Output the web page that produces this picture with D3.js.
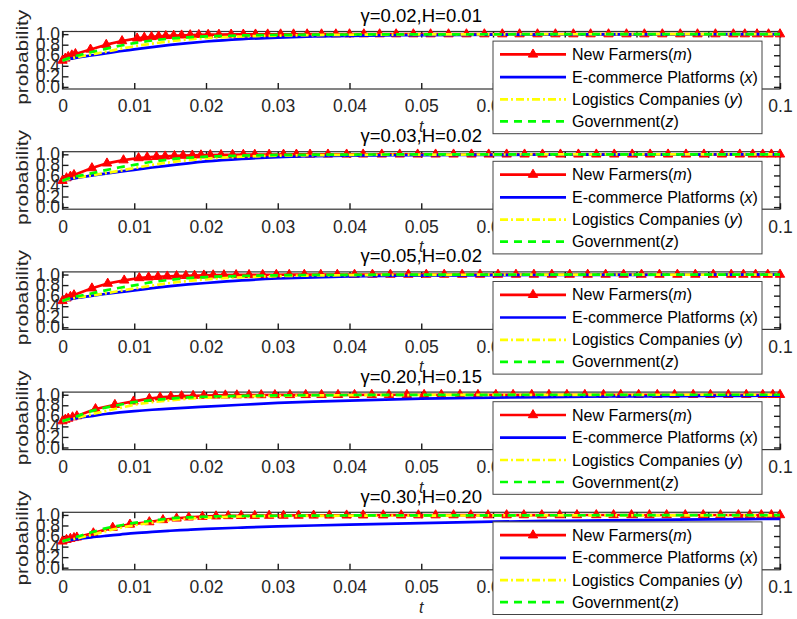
<!DOCTYPE html>
<html>
<head>
<meta charset="utf-8">
<script src="https://cdn.jsdelivr.net/npm/d3@7"></script>
<style>
  html, body { margin: 0; padding: 0; background: #fff; }
  svg { display: block; }
</style>
</head>
<body>
<script>
// ---------------- DATA ----------------
const titles = ["γ=0.02,H=0.01", "γ=0.03,H=0.02", "γ=0.05,H=0.02", "γ=0.20,H=0.15", "γ=0.30,H=0.20"];
const xTicks = [0, 0.01, 0.02, 0.03, 0.04, 0.05, 0.06, 0.07, 0.08, 0.09, 0.1];
const xTickLabels = ["0", "0.01", "0.02", "0.03", "0.04", "0.05", "0.06", "0.07", "0.08", "0.09", "0.1"];
const yTicks = [0, 0.2, 0.4, 0.6, 0.8, 1.0];
const yTickLabels = ["0.0", "0.2", "0.4", "0.6", "0.8", "1.0"];
const yLabel = "probability";
const xLabel = "t";
const legendNames = ["New Farmers(", "E-commerce Platforms (", "Logistics Companies (", "Government("];
const legendVars = ["m", "x", "y", "z"];

// time grid for the smooth curves (x, y, z)
const tCurve = [0, 0.001, 0.002, 0.004, 0.006, 0.008, 0.01, 0.0125, 0.015, 0.0175, 0.02, 0.025, 0.03, 0.035, 0.04, 0.05, 0.06, 0.07, 0.08, 0.09, 0.1];

// panel 1
const tMarks1 = [0, 0.0004, 0.0008, 0.0013, 0.0018, 0.0039, 0.0061, 0.0083, 0.0104, 0.0114, 0.0124, 0.0134, 0.0144, 0.0155, 0.0166, 0.0178, 0.019, 0.0203, 0.0218, 0.0235, 0.0252, 0.0269, 0.0286, 0.0304, 0.0322, 0.0341, 0.0361, 0.0381, 0.04, 0.042, 0.0442, 0.0465, 0.0489, 0.0513, 0.0538, 0.0563, 0.0588, 0.0613, 0.0637, 0.0662, 0.0687, 0.0712, 0.0736, 0.0761, 0.0786, 0.0811, 0.0836, 0.0861, 0.0885, 0.091, 0.0935, 0.0951, 0.0968, 0.0984, 0.1];
const red1 = [0.5, 0.54, 0.57, 0.6, 0.625, 0.71, 0.8, 0.87, 0.92, 0.935, 0.948, 0.958, 0.966, 0.973, 0.978, 0.983, 0.987, 0.99, 0.992, 0.994, 0.995, 0.996, 0.997, 0.998, 0.998, 0.999, 0.999, 0.999, 1, 1, 1, 1, 1, 1, 1, 1, 1, 1, 1, 1, 1, 1, 1, 1, 1, 1, 1, 1, 1, 1, 1, 1, 1, 1, 1];
const blue1 = [0.5, 0.53, 0.555, 0.595, 0.635, 0.675, 0.71, 0.755, 0.795, 0.83, 0.86, 0.905, 0.935, 0.955, 0.968, 0.982, 0.99, 0.994, 0.996, 0.998, 0.999];
const yellow1 = [0.5, 0.535, 0.565, 0.615, 0.665, 0.72, 0.77, 0.82, 0.865, 0.9, 0.925, 0.955, 0.972, 0.982, 0.988, 0.994, 0.997, 0.998, 0.999, 1, 1];
const green1 = [0.5, 0.55, 0.59, 0.66, 0.72, 0.78, 0.83, 0.88, 0.915, 0.94, 0.957, 0.975, 0.985, 0.99, 0.993, 0.996, 0.998, 0.999, 1, 1, 1];

// panel 2
const tMarks2 = [0, 0.00056, 0.0011, 0.0016, 0.0041, 0.0062, 0.0085, 0.0106, 0.0118, 0.0131, 0.0143, 0.0156, 0.0168, 0.0181, 0.0193, 0.0206, 0.0221, 0.0237, 0.0252, 0.0268, 0.0288, 0.0308, 0.0326, 0.0345, 0.037, 0.0396, 0.0419, 0.0445, 0.047, 0.0495, 0.052, 0.0545, 0.057, 0.0594, 0.0619, 0.0644, 0.0669, 0.0694, 0.0719, 0.0744, 0.0769, 0.0794, 0.0819, 0.0844, 0.0869, 0.0894, 0.0919, 0.0944, 0.0962, 0.0976, 0.0988, 0.1];
const red2 = [0.5, 0.55, 0.58, 0.61, 0.74, 0.83, 0.89, 0.93, 0.945, 0.955, 0.963, 0.97, 0.976, 0.98, 0.984, 0.987, 0.99, 0.992, 0.994, 0.995, 0.996, 0.997, 0.998, 0.998, 0.999, 0.999, 1, 1, 1, 1, 1, 1, 1, 1, 1, 1, 1, 1, 1, 1, 1, 1, 1, 1, 1, 1, 1, 1, 1, 1, 1, 1];
const blue2 = [0.5, 0.53, 0.555, 0.595, 0.635, 0.672, 0.705, 0.75, 0.79, 0.83, 0.865, 0.915, 0.948, 0.965, 0.975, 0.985, 0.99, 0.993, 0.995, 0.997, 0.998];
const yellow2 = [0.5, 0.535, 0.56, 0.6, 0.645, 0.69, 0.74, 0.8, 0.85, 0.89, 0.92, 0.955, 0.975, 0.985, 0.99, 0.995, 0.997, 0.998, 0.999, 1, 1];
const green2 = [0.5, 0.55, 0.585, 0.64, 0.7, 0.755, 0.8, 0.86, 0.905, 0.935, 0.955, 0.975, 0.988, 0.993, 0.996, 0.998, 0.999, 1, 1, 1, 1];

// panel 3
const tMarks3 = [0, 0.00056, 0.0011, 0.0016, 0.0041, 0.0063, 0.0086, 0.0107, 0.012, 0.0133, 0.0146, 0.0159, 0.0172, 0.0184, 0.0197, 0.021, 0.0225, 0.0242, 0.026, 0.0279, 0.0298, 0.0316, 0.0337, 0.036, 0.0383, 0.0407, 0.0432, 0.0457, 0.0482, 0.0507, 0.0532, 0.0557, 0.0582, 0.0607, 0.0632, 0.0657, 0.0682, 0.0707, 0.0732, 0.0757, 0.0782, 0.0807, 0.0832, 0.0857, 0.0882, 0.0907, 0.0932, 0.0949, 0.0966, 0.0983, 0.1];
const red3 = [0.5, 0.55, 0.58, 0.61, 0.74, 0.83, 0.89, 0.935, 0.948, 0.958, 0.966, 0.972, 0.977, 0.981, 0.985, 0.988, 0.99, 0.992, 0.994, 0.995, 0.996, 0.997, 0.998, 0.998, 0.999, 0.999, 1, 1, 1, 1, 1, 1, 1, 1, 1, 1, 1, 1, 1, 1, 1, 1, 1, 1, 1, 1, 1, 1, 1, 1, 1];
const blue3 = [0.5, 0.53, 0.555, 0.595, 0.632, 0.668, 0.7, 0.742, 0.78, 0.812, 0.84, 0.89, 0.925, 0.948, 0.965, 0.98, 0.988, 0.993, 0.995, 0.997, 0.998];
const yellow3 = [0.5, 0.535, 0.56, 0.6, 0.645, 0.69, 0.735, 0.79, 0.84, 0.88, 0.91, 0.948, 0.97, 0.982, 0.988, 0.994, 0.997, 0.998, 0.999, 1, 1];
const green3 = [0.5, 0.55, 0.585, 0.64, 0.7, 0.75, 0.795, 0.855, 0.9, 0.932, 0.952, 0.973, 0.986, 0.992, 0.995, 0.998, 0.999, 1, 1, 1, 1];

// panel 4
const tMarks4 = [0, 0.0004, 0.0008, 0.0014, 0.002, 0.0046, 0.0073, 0.0099, 0.0121, 0.0136, 0.0151, 0.0166, 0.0182, 0.0197, 0.0213, 0.0227, 0.0243, 0.026, 0.0277, 0.0296, 0.0317, 0.0339, 0.0361, 0.0384, 0.0407, 0.0431, 0.0455, 0.048, 0.0504, 0.0528, 0.0554, 0.0579, 0.0604, 0.0628, 0.0654, 0.0678, 0.0703, 0.0728, 0.0754, 0.0778, 0.0803, 0.0829, 0.0853, 0.0879, 0.0903, 0.0928, 0.0953, 0.0976, 0.099, 0.1];
const red4 = [0.5, 0.53, 0.55, 0.575, 0.595, 0.73, 0.81, 0.875, 0.925, 0.95, 0.965, 0.975, 0.981, 0.985, 0.988, 0.99, 0.992, 0.994, 0.995, 0.996, 0.997, 0.998, 0.998, 0.999, 0.999, 1, 1, 1, 1, 1, 1, 1, 1, 1, 1, 1, 1, 1, 1, 1, 1, 1, 1, 1, 1, 1, 1, 1, 1, 1];
const blue4 = [0.5, 0.53, 0.555, 0.595, 0.635, 0.665, 0.69, 0.715, 0.735, 0.757, 0.775, 0.81, 0.845, 0.87, 0.89, 0.925, 0.945, 0.96, 0.97, 0.977, 0.982];
const yellow4 = [0.5, 0.53, 0.56, 0.63, 0.69, 0.75, 0.81, 0.86, 0.895, 0.925, 0.945, 0.968, 0.98, 0.987, 0.991, 0.995, 0.997, 0.998, 0.999, 1, 1];
const green4 = [0.5, 0.545, 0.59, 0.69, 0.755, 0.81, 0.86, 0.9, 0.925, 0.95, 0.962, 0.98, 0.988, 0.993, 0.995, 0.998, 0.999, 1, 1, 1, 1];

// panel 5
const tMarks5 = [0, 0.00056, 0.0011, 0.0016, 0.002, 0.0043, 0.007, 0.0094, 0.0121, 0.014, 0.0159, 0.0176, 0.0195, 0.0214, 0.0231, 0.0249, 0.0268, 0.0288, 0.0308, 0.0329, 0.035, 0.0372, 0.0396, 0.0419, 0.0447, 0.0472, 0.0496, 0.052, 0.0545, 0.0569, 0.0593, 0.0619, 0.0643, 0.0668, 0.0693, 0.0717, 0.0744, 0.0768, 0.0793, 0.0818, 0.0842, 0.0868, 0.0893, 0.0917, 0.0942, 0.0958, 0.0974, 0.0988, 0.1];
const red5 = [0.5, 0.53, 0.55, 0.565, 0.575, 0.655, 0.76, 0.82, 0.865, 0.905, 0.935, 0.955, 0.968, 0.976, 0.981, 0.984, 0.986, 0.988, 0.989, 0.99, 0.991, 0.992, 0.993, 0.994, 0.995, 0.995, 0.996, 0.996, 0.997, 0.997, 0.997, 0.998, 0.998, 0.998, 0.998, 0.999, 0.999, 0.999, 0.999, 0.999, 0.999, 0.999, 0.999, 0.999, 0.999, 0.999, 0.999, 0.999, 0.999];
const blue5 = [0.5, 0.52, 0.54, 0.575, 0.603, 0.628, 0.655, 0.68, 0.7, 0.718, 0.735, 0.76, 0.782, 0.8, 0.815, 0.845, 0.872, 0.89, 0.903, 0.915, 0.925];
const yellow5 = [0.5, 0.53, 0.555, 0.62, 0.69, 0.755, 0.805, 0.855, 0.9, 0.93, 0.95, 0.97, 0.978, 0.982, 0.985, 0.988, 0.99, 0.991, 0.992, 0.993, 0.993];
const green5 = [0.5, 0.545, 0.585, 0.67, 0.745, 0.8, 0.85, 0.89, 0.935, 0.955, 0.968, 0.98, 0.985, 0.988, 0.99, 0.992, 0.993, 0.994, 0.995, 0.995, 0.995];

// table built from the arrays above
const panels = [
  { title: titles[0], tM: tMarks1, red: red1, blue: blue1, yellow: yellow1, green: green1 },
  { title: titles[1], tM: tMarks2, red: red2, blue: blue2, yellow: yellow2, green: green2 },
  { title: titles[2], tM: tMarks3, red: red3, blue: blue3, yellow: yellow3, green: green3 },
  { title: titles[3], tM: tMarks4, red: red4, blue: blue4, yellow: yellow4, green: green4 },
  { title: titles[4], tM: tMarks5, red: red5, blue: blue5, yellow: yellow5, green: green5 }
];

// ---------------- DRAWING ----------------
const W = 797, H = 619;
const FONT = "'Liberation Sans', Arial, Helvetica, sans-serif";
const COLORS = { red: "#ff0000", blue: "#0000ff", yellow: "#ffff00", green: "#00ff00" };
const DASH = { red: null, blue: null, yellow: "8,3,2,3", green: "8,6" };
const LW = 2.7;

const svg = d3.select("body").append("svg").attr("width", W).attr("height", H)
  .style("background", "#fff");

const axL = 62.5, axR = 780, firstTop = 31.5, step = 120.2, ph = 57.5;
const legX = 493, legW = 269, legH = 92.6;
const x = d3.scaleLinear().domain([0, 0.1]).range([axL, axR]);
const tri = d3.symbol().type(d3.symbolTriangle).size(38);

function styleAxis(sel, fs) {
  sel.select(".domain").remove();
  sel.selectAll(".tick line").attr("stroke", "#1a1a1a").attr("stroke-width", 1.4);
  sel.selectAll(".tick text").attr("fill", "#262626")
    .style("font-family", FONT).style("font-size", fs + "px");
}

panels.forEach((p, i) => {
  const T = firstTop + i * step, B = T + ph;
  const y = d3.scaleLinear().domain([-0.04, 1.05]).range([B, T]);
  const g = svg.append("g");

  // axes box
  g.append("rect").attr("x", axL).attr("y", T).attr("width", axR - axL).attr("height", ph)
    .attr("fill", "#fff").attr("stroke", "#333").attr("stroke-width", 1.2);

  // ticks
  const bx = g.append("g").attr("transform", `translate(0,${B})`)
    .call(d3.axisBottom(x).tickValues(xTicks).tickFormat((d, k) => xTickLabels[k])
      .tickSizeInner(-6).tickSizeOuter(0).tickPadding(11))
    .call(s => styleAxis(s, 17.5));
  // labels entirely covered by the legend box are not visible in the figure
  bx.selectAll(".tick text").filter(d => x(d) - 17 > legX && x(d) + 17 < legX + legW).remove();
  g.append("g").attr("transform", `translate(0,${T})`)
    .call(d3.axisTop(x).tickValues(xTicks).tickFormat("").tickSizeInner(-6).tickSizeOuter(0))
    .call(s => styleAxis(s, 17.5));
  g.append("g").attr("transform", `translate(${axL},0)`)
    .call(d3.axisLeft(y).tickValues(yTicks).tickFormat((d, k) => yTickLabels[k])
      .tickSizeInner(-6).tickSizeOuter(0).tickPadding(2.5))
    .call(s => styleAxis(s, 17.5));
  g.append("g").attr("transform", `translate(${axR},0)`)
    .call(d3.axisRight(y).tickValues(yTicks).tickFormat("").tickSizeInner(-6).tickSizeOuter(0))
    .call(s => styleAxis(s, 17.5));

  // title
  g.append("text").attr("x", (axL + axR) / 2).attr("y", T - 9.5).attr("text-anchor", "middle")
    .style("font-family", FONT).style("font-size", "18.5px").attr("fill", "#000").text(p.title);

  // y label
  g.append("text").attr("transform", `translate(${28},${(T + B) / 2 - 3}) rotate(-90)`)
    .attr("text-anchor", "middle")
    .attr("textLength", 95).attr("lengthAdjust", "spacingAndGlyphs")
    .style("font-family", FONT).style("font-size", "17px").attr("fill", "#262626").text(yLabel);

  // x label
  g.append("text").attr("x", (axL + axR) / 2).attr("y", B + 43).attr("text-anchor", "middle")
    .style("font-family", FONT).style("font-size", "16px").style("font-style", "italic")
    .attr("fill", "#262626").text(xLabel);

  // red line with markers
  const nR = Math.min(p.tM.length, p.red.length);
  const redPts = d3.range(nR).map(k => [p.tM[k], p.red[k]]);
  const lineLin = d3.line().x(d => x(d[0])).y(d => y(d[1]));
  g.append("path").datum(redPts).attr("d", lineLin).attr("fill", "none")
    .attr("stroke", COLORS.red).attr("stroke-width", LW).attr("stroke-linejoin", "round");
  g.append("g").selectAll("path").data(redPts).join("path")
    .attr("d", tri).attr("transform", d => `translate(${x(d[0])},${y(d[1])})`)
    .attr("fill", COLORS.red).attr("stroke", COLORS.red).attr("stroke-width", 1);

  // other curves
  const lineSm = d3.line().x(d => x(d[0])).y(d => y(d[1])).curve(d3.curveMonotoneX);
  ["blue", "yellow", "green"].forEach(key => {
    const vals = p[key];
    const pts = d3.range(Math.min(tCurve.length, vals.length)).map(k => [tCurve[k], vals[k]]);
    g.append("path").datum(pts).attr("d", lineSm).attr("fill", "none")
      .attr("stroke", COLORS[key]).attr("stroke-width", LW)
      .attr("stroke-dasharray", DASH[key]);
  });

  // legend
  const lg = g.append("g").attr("transform", `translate(${legX},${T + 9.6})`);
  lg.append("rect").attr("width", legW).attr("height", legH)
    .attr("fill", "#fff").attr("stroke", "#444").attr("stroke-width", 1);
  const rowY = [13.3, 36, 58.3, 80.3];
  ["red", "blue", "yellow", "green"].forEach((key, k) => {
    lg.append("line").attr("x1", 7).attr("x2", 73).attr("y1", rowY[k]).attr("y2", rowY[k])
      .attr("stroke", COLORS[key]).attr("stroke-width", LW).attr("stroke-dasharray", DASH[key]);
    if (key === "red") {
      lg.append("path").attr("d", tri).attr("transform", `translate(40,${rowY[k]})`)
        .attr("fill", COLORS.red).attr("stroke", COLORS.red).attr("stroke-width", 1);
    }
    const t = lg.append("text").attr("x", 79).attr("y", rowY[k]).attr("dy", "0.35em")
      .style("font-family", FONT).style("font-size", "16px").attr("fill", "#000");
    t.append("tspan").text(legendNames[k]);
    t.append("tspan").style("font-style", "italic").text(legendVars[k]);
    t.append("tspan").text(")");
  });
});
</script>
</body>
</html>
